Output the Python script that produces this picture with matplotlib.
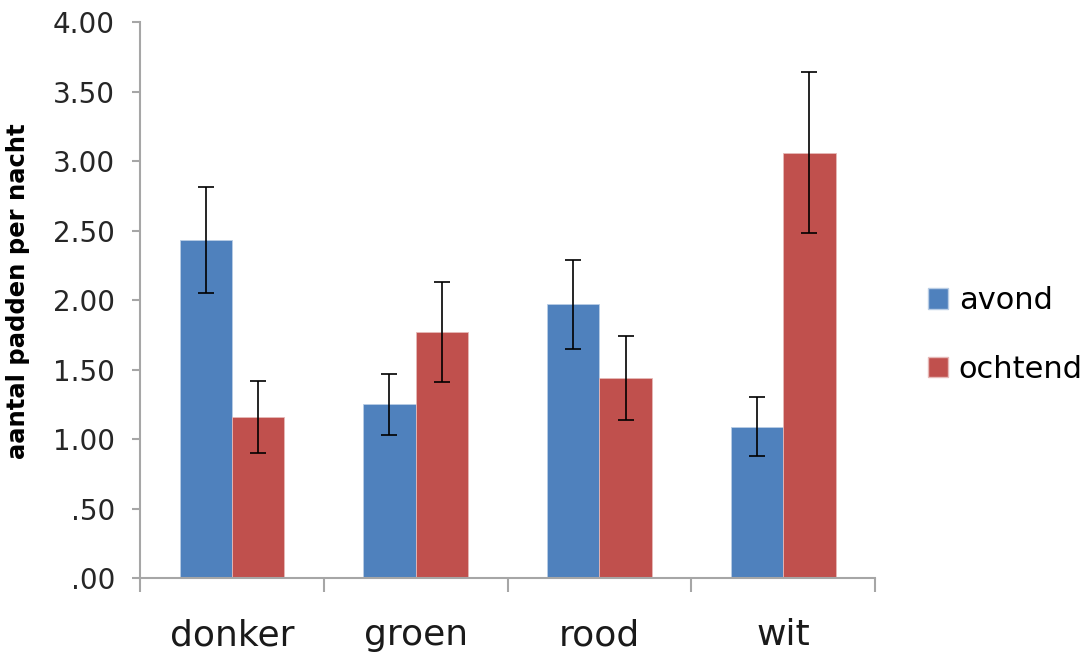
import numpy as np
import matplotlib.pyplot as plt
from matplotlib.patches import Patch
from matplotlib.ticker import FixedLocator

# mean number of toads per night, by light colour and time of night
categories = ['donker', 'groen', 'rood', 'wit']
avond = [2.43, 1.25, 1.97, 1.09]
ochtend = [1.16, 1.77, 1.44, 3.06]
# error bar half lengths
avond_err = [0.38, 0.22, 0.32, 0.21]
ochtend_err = [0.26, 0.36, 0.30, 0.58]
yticks = [0, 0.5, 1.0, 1.5, 2.0, 2.5, 3.0, 3.5, 4.0]
ytick_labels = ['.00', '.50', '1.00', '1.50', '2.00', '2.50', '3.00', '3.50', '4.00']

blue = '#4F81BD'
red = '#C0504D'
axis_grey = '#A6A6A6'

fig = plt.figure(figsize=(10.87, 6.57), dpi=100)
ax = fig.add_axes([0.1288, 0.1202, 0.6762, 0.8463])

x = np.arange(len(categories))
w = 0.285
err_kw = dict(ecolor='black', elinewidth=1.2, capsize=5.5, capthick=1.2)
ax.bar(x - w / 2, avond, w, yerr=avond_err, color=blue, edgecolor='#B9CDE5',
       linewidth=0.6, error_kw=err_kw, label='avond')
ax.bar(x + w / 2, ochtend, w, yerr=ochtend_err, color=red, edgecolor='#E6B9B8',
       linewidth=0.6, error_kw=err_kw, label='ochtend')

ax.set_xlim(-0.5, len(categories) - 0.5)
ax.set_ylim(0, 4.0)
ax.set_yticks(yticks)
ax.set_yticklabels(ytick_labels)
ax.set_xticks(x)
ax.set_xticklabels(categories)
ax.xaxis.set_minor_locator(FixedLocator(np.arange(-0.5, len(categories), 1.0)))

for s in ['top', 'right']:
    ax.spines[s].set_visible(False)
for s in ['left', 'bottom']:
    ax.spines[s].set_color(axis_grey)
    ax.spines[s].set_linewidth(1.5)

ax.tick_params(axis='y', direction='out', length=6, width=1.5, color=axis_grey,
               labelsize=20, labelcolor='#262626', pad=12)
ax.tick_params(axis='x', which='major', length=0, labelsize=26,
               labelcolor='#1a1a1a', pad=29)
ax.tick_params(axis='x', which='minor', direction='out', length=10, width=1.5,
               color=axis_grey)

ax.set_ylabel('aantal padden per nacht', fontsize=17.5, fontweight='bold')
ax.yaxis.set_label_coords(-0.15, 0.515)

handles = [Patch(facecolor=blue, edgecolor='#B9CDE5'),
           Patch(facecolor=red, edgecolor='#E6B9B8')]
fig.legend(handles, ['avond', 'ochtend'], loc='center left',
           bbox_to_anchor=(0.854, 0.490), frameon=False, fontsize=22,
           handlelength=0.65, handleheight=0.65, handletextpad=0.35,
           labelspacing=1.3, borderpad=0, borderaxespad=0)

fig.savefig('out.png', dpi=100)
